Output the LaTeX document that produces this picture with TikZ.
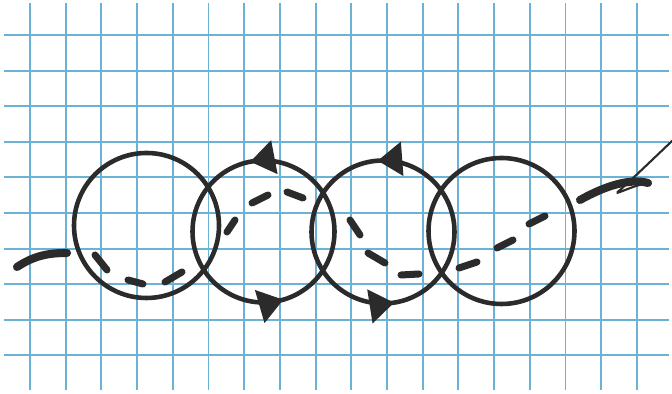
\documentclass[tikz,border=0pt]{standalone}
\usepackage{tikz}
\usetikzlibrary{arrows.meta, decorations.markings}
\usepackage{xcolor}
\definecolor{gridBlue}{RGB}{108, 178, 214}
\definecolor{inkGray}{RGB}{43, 43, 43}

\begin{document}
\begin{tikzpicture}[
  x=0.02cm, y=0.02cm,
  gridline/.style={draw=gridBlue, line width=1.1pt},
  ring/.style={draw=inkGray, line width=2.6pt},
  dashseg/.style={draw=inkGray, line width=4pt, line cap=round},
  pen/.style={draw=inkGray, line width=4.6pt, line cap=round},
  thinpen/.style={draw=inkGray, line width=1.2pt, line cap=round},
  tip/.tip={Triangle[length=14pt, width=19pt]},
]

% Paper
\fill[white] (0,0) rectangle (672,394);
\useasboundingbox (0,0) rectangle (672,394);

% Grid lines
\foreach \i in {0,...,17}
  \draw[gridline] ({30+35.7*\i},4) -- ({30+35.7*\i},391);
\foreach \j in {0,...,9}
  \draw[gridline] (4,{359-35.6*\j}) -- (669,{359-35.6*\j});

% Circle centres
\coordinate (c1) at (146.5,168.5);
\coordinate (c2) at (263.5,162.5);
\coordinate (c3) at (383,162);
\coordinate (c4) at (501.5,163);

% Circles (the two middle ones carry arrows)
\draw[ring] (c1) circle (72.5);
\draw[ring, postaction={decorate}, decoration={markings,
    mark=at position 0.28 with {\arrow[inkGray]{tip}},
    mark=at position 0.795 with {\arrow[inkGray]{tip}}}]
  (c2) ++(0:71) arc (0:360:71);
\draw[ring, postaction={decorate}, decoration={markings,
    mark=at position 0.262 with {\arrow[inkGray]{tip}},
    mark=at position 0.775 with {\arrow[inkGray]{tip}}}]
  (c3) ++(0:71.5) arc (0:360:71.5);
\draw[ring] (c4) circle (73);

% Stroke coming in from the left
\coordinate (inA) at (17,127);
\coordinate (inB) at (67,141);
\draw[pen] (inA) .. controls (35,139) and (50,141) .. (inB);

% Dashed track through the circles
\foreach \ax/\ay/\bx/\by in {95/139/107/124, 128/114/143/110, 165/112/182/122,
    227/162/235/174, 252/191/268/199, 287/202/303/196,
    350/174/360/159, 368/141/385/131, 401/119/419/120,
    459/126/477/132, 497/146/513/154, 529/170/545/178}
  \draw[dashseg] (\ax,\ay) .. controls ({(2*\ax+\bx)/3},{(2*\ay+\by)/3}) .. (\bx,\by);

% Stroke leaving on the right, with the pen flourish
\coordinate (outA) at (580,194);
\coordinate (outB) at (648,211);
\coordinate (outC) at (672,253);
\draw[pen] (outA) .. controls (605,208) and (630,216) .. (outB);
\draw[thinpen] (outB) .. controls (630,208) and (610,196) .. (620,204)
  .. controls (628,211) and (650,232) .. (outC);

\end{tikzpicture}
\end{document}
